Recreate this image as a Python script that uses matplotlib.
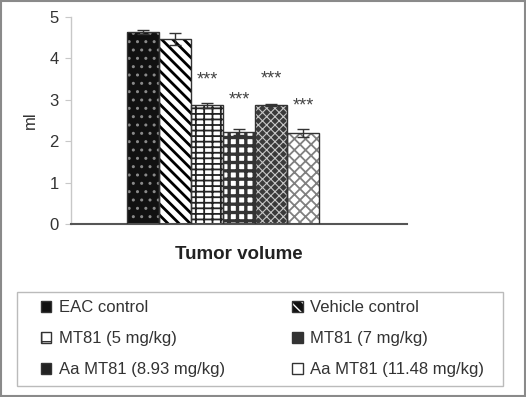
import matplotlib
matplotlib.use("Agg")
import matplotlib.pyplot as plt
from matplotlib.patches import Rectangle, Patch

plt.rcParams['font.family'] = ['Liberation Sans', 'DejaVu Sans']

groups = ["EAC control", "Vehicle control", "MT81 (5 mg/kg)", "MT81 (7 mg/kg)",
          "Aa MT81 (8.93 mg/kg)", "Aa MT81 (11.48 mg/kg)"]
values = [4.64, 4.47, 2.87, 2.22, 2.87, 2.20]
errors = [0.05, 0.15, 0.06, 0.07, 0.02, 0.10]
stars = ["", "", "***", "***", "***", "***"]
star_offset = [0, 0, 0.55, 0.70, 0.62, 0.55]
xlabel = "Tumor volume"
ylabel = "ml"
yticks = [0, 1, 2, 3, 4, 5]

# bar fill styles
faces = ['#111111', 'white', 'white', 'white', '#3a3a3a', 'white']
hatches = ['..', '\\\\\\', '---||', '++', 'xxxx', 'xxx']
hcolors = ['#8a8a8a', 'black', '#222222', '#333333', '#c8c8c8', '#808080']
hwidths = [1.0, 2.0, 1.3, 2.4, 0.8, 1.3]

# legend marker styles (small squares)
lg_faces = ['#111111', '#111111', 'white', '#333333', '#222222', 'white']
lg_hatch = ['', '\\\\\\', '+', '', '', '-']
lg_hcol = ['#111111', 'white', '#333333', '#333333', '#222222', '#333333']

fig = plt.figure(figsize=(5.26, 3.97), dpi=100)
fig.patches.append(Rectangle((0.002, 0.002), 0.996, 0.996, transform=fig.transFigure,
                             fill=False, edgecolor='#8a8a8a', linewidth=1.5))
ax = fig.add_axes([0.135, 0.4358, 0.639, 0.5214])

x = list(range(len(values)))
handles = []
for i, (v, e) in enumerate(zip(values, errors)):
    with plt.rc_context({'hatch.linewidth': hwidths[i]}):
        b = ax.bar(x[i], v, width=1.0, color=faces[i], hatch=hatches[i],
                   edgecolor=hcolors[i], linewidth=0, zorder=2)
        for p in b:
            try:
                p.set_hatch_linewidth(hwidths[i])
            except Exception:
                pass
    ax.bar(x[i], v, width=1.0, fill=False, edgecolor='#333333', linewidth=1.0, zorder=3)
    ax.errorbar(x[i], v, yerr=e, fmt='none', ecolor='#333333', elinewidth=1.0,
                capsize=4, capthick=1.0, zorder=4)
    if stars[i]:
        ax.text(x[i], v + e + star_offset[i], stars[i], ha='center', va='center',
                fontsize=13, color='#444444')
    with plt.rc_context({'hatch.linewidth': 1.6}):
        h1 = Patch(facecolor=lg_faces[i], hatch=lg_hatch[i] or None,
                   edgecolor=lg_hcol[i], linewidth=0)
        try:
            h1.set_hatch_linewidth(1.6)
        except Exception:
            pass
    h2 = Patch(fill=False, edgecolor='#333333', linewidth=1.0)
    handles.append((h1, h2))

ax.set_xlim(-2.25, 8.25)
ax.set_ylim(0, 5)
ax.set_yticks(yticks)
ax.set_xticks([])
for s in ['top', 'right']:
    ax.spines[s].set_visible(False)
ax.spines['left'].set_color('#c8c8c8')
ax.spines['left'].set_linewidth(1.0)
ax.spines['bottom'].set_color('#555555')
ax.spines['bottom'].set_linewidth(1.5)
ax.tick_params(axis='y', length=4, color='#c8c8c8', labelsize=12, labelcolor='#333333', pad=5)
ax.set_ylabel(ylabel, fontsize=12, color='#333333', labelpad=8)
ax.set_xlabel(xlabel, fontsize=13.5, fontweight='bold', color='#222222', labelpad=16)

# legend frame
fig.patches.append(Rectangle((17 / 526, 1 - 386 / 397), 486 / 526, 94 / 397,
                             transform=fig.transFigure, fill=False,
                             edgecolor='#bbbbbb', linewidth=1.0))
order = [0, 2, 4, 1, 3, 5]
leg = fig.legend([handles[i] for i in order], [groups[i] for i in order],
                 loc='upper left', bbox_to_anchor=(36 / 526, 1 - 295 / 397),
                 ncol=2, fontsize=12, frameon=False,
                 handlelength=0.62, handleheight=0.62,
                 handletextpad=0.45, labelspacing=0.97, borderaxespad=0,
                 borderpad=0.3, columnspacing=4.05)
for t in leg.get_texts():
    t.set_color('#333333')

fig.savefig('out.png', dpi=100)
